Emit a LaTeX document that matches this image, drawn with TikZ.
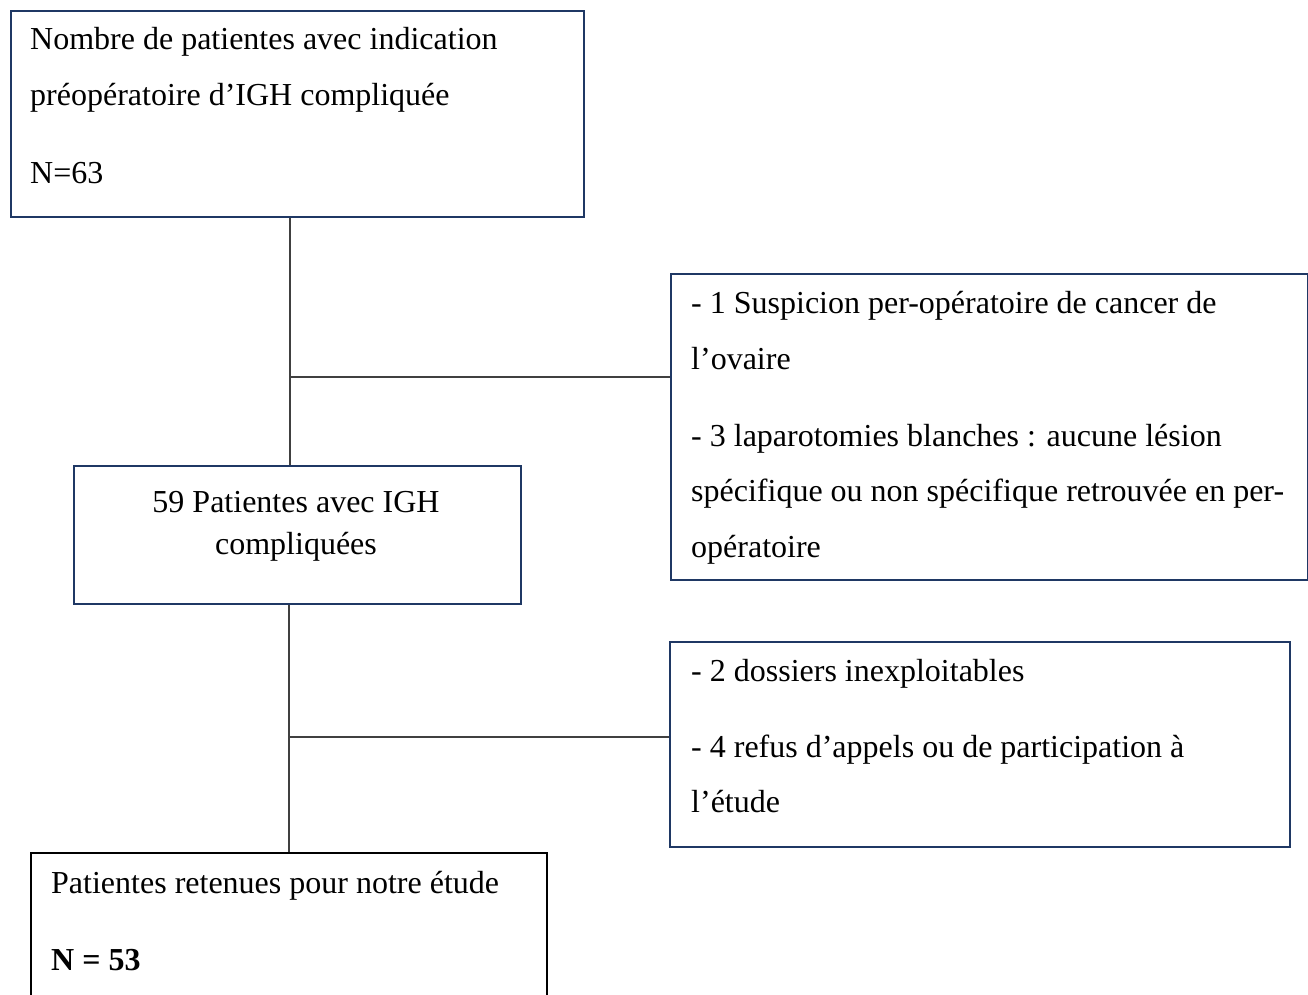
\documentclass[tikz,border=0pt]{standalone}
\usepackage{fontspec}
\setmainfont{Liberation Serif}
\begin{document}
\begin{tikzpicture}[x=1pt,y=-1pt,
  navybox/.style={draw=navy, line width=2pt, rectangle, inner sep=0pt, anchor=north west},
  blackbox/.style={draw=black, line width=2pt, rectangle, inner sep=0pt, anchor=north west},
  txt/.style={anchor=base west, inner sep=0pt, font=\fontsize{32}{38}\selectfont},
  ctxt/.style={anchor=base, inner sep=0pt, font=\fontsize{32}{38}\selectfont},
  conn/.style={draw=linegray, line width=1.3pt}]
\definecolor{navy}{HTML}{1F3864}
\definecolor{linegray}{HTML}{404040}
\useasboundingbox (0,0) rectangle (1308,995);

% boxes
\node[navybox, minimum width=573pt, minimum height=206pt] (b1) at (10,10) {};
\node[navybox, minimum width=637pt, minimum height=306pt] (b3) at (670,273) {};
\node[navybox, minimum width=447pt, minimum height=138pt] (b2) at (73,465) {};
\node[navybox, minimum width=620pt, minimum height=205pt] (b4) at (669,641) {};
\node[blackbox, minimum width=516pt, minimum height=160pt] (b5) at (30,852) {};

% texts box 1
\node[txt] (t11) at (30,50) {Nombre de patientes avec indication};
\node[txt] (t12) at (30,106) {préopératoire d’IGH compliquée};
\node[txt] (t13) at (30,183) {N=63};

% texts box 3
\node[txt] (t31) at (691,313) {- 1 Suspicion per-opératoire de cancer de};
\node[txt] (t32) at (691,369) {l’ovaire};
\node[txt] (t33) at (691,446) {- 3 laparotomies blanches : aucune lésion};
\node[txt] (t34) at (691,501) {spécifique ou non spécifique retrouvée en per-};
\node[txt] (t35) at (691,557) {opératoire};

% texts box 2
\node[ctxt] (t21) at (296,512) {59 Patientes avec IGH};
\node[ctxt] (t22) at (296,554) {compliquées};

% texts box 4
\node[txt] (t41) at (691,681) {- 2 dossiers inexploitables};
\node[txt] (t42) at (691,757) {- 4 refus d’appels ou de participation à};
\node[txt] (t43) at (691,812) {l’étude};

% texts box 5
\node[txt] (t51) at (51,893) {Patientes retenues pour notre étude};
\node[txt] (t52) at (51,970) {\bfseries N = 53};

% connectors
\coordinate (j1) at (290,377);
\coordinate (j2) at (289,737);
\draw[conn] (b1.south -| j1) -- (b2.north -| j1);
\draw[conn] (j1) -- (j1 -| b3.west);
\draw[conn] (b2.south -| j2) -- (b5.north -| j2);
\draw[conn] (j2) -- (j2 -| b4.west);
\end{tikzpicture}
\end{document}
